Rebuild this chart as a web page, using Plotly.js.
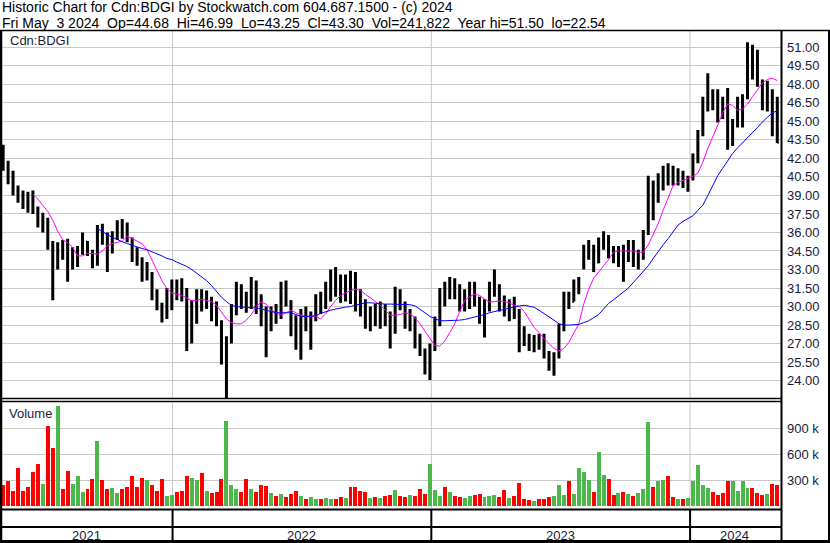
<!DOCTYPE html>
<html>
<head>
<meta charset="utf-8">
<script src="https://cdn.plot.ly/plotly-3.0.1.min.js"></script>
<style>html,body{margin:0;padding:0;background:#fff}#chart{width:830px;height:543px}</style>
</head>
<body>
<div id="chart"></div>
<script>
// ---- DATA (weekly bars; first week ends Fri 2021-05-07) ----
const firstWeekEnding = [2021, 4, 7];

const openPx = [
42.9,41.5,40.2,39.4,38.8,38.6,38.2,37.8,36.8,37.0,
35.0,33.2,34.6,34.2,33.6,33.6,34.5,35.2,34.4,33.8,
36.0,35.5,34.8,35.8,36.4,36.3,35.5,34.0,33.8,32.5,
32.6,31.0,30.0,29.2,31.2,31.8,31.5,30.8,27.5,29.0,
30.8,30.2,30.6,29.6,28.7,26.0,27.2,29.8,31.3,30.5,
30.3,31.9,30.0,29.0,28.6,29.6,29.2,31.5,30.4,28.2,
27.4,29.2,28.5,29.0,30.6,30.0,31.8,32.3,31.5,31.0,
32.0,31.0,30.5,30.0,28.8,29.5,28.8,29.8,28.6,28.0,
31.0,30.2,28.8,29.0,27.0,26.4,25.0,26.6,28.6,31.2,
31.0,32.0,31.2,30.0,31.0,31.6,30.4,29.4,30.2,31.5,
31.6,30.3,29.8,30.2,29.5,27.6,27.3,26.9,27.2,26.8,
26.2,25.2,26.0,28.2,30.6,30.4,31.8,33.4,34.0,34.8,
33.6,35.2,35.5,34.2,34.0,34.6,33.8,35.0,33.6,34.0,
36.0,39.0,38.6,40.2,40.8,40.6,40.0,40.8,40.0,40.4,
42.0,44.0,46.6,47.4,46.4,46.0,45.6,43.6,44.8,46.2,
47.0,50.2,49.0,48.2,46.6,47.2,44.68];

const highPx = [
43.1,41.8,41.0,39.8,39.4,39.3,39.4,38.1,37.6,37.2,
35.3,35.2,35.4,35.5,34.8,34.9,36.0,35.3,34.6,36.6,
36.7,36.0,36.1,37.0,37.1,36.8,35.6,34.8,34.0,33.6,
32.8,31.4,30.3,31.5,32.2,32.2,32.3,31.5,30.5,31.4,
31.4,31.3,30.8,30.4,28.9,27.6,30.2,32.0,31.8,31.2,
32.4,32.1,31.0,30.0,30.0,30.2,32.0,32.1,30.5,29.3,
29.8,30.0,29.6,31.0,31.2,32.0,33.0,33.2,32.6,32.6,
32.9,32.8,31.4,30.6,30.0,30.2,30.4,30.2,29.6,31.6,
31.4,30.4,29.8,29.2,27.8,26.6,27.0,29.2,31.5,32.0,
32.4,32.3,31.8,31.4,32.0,32.0,30.8,30.6,32.0,33.0,
31.8,30.9,30.6,30.8,29.8,28.4,27.8,27.7,27.8,27.8,
26.4,26.3,28.6,31.2,31.2,32.2,32.4,35.0,35.4,35.0,
35.6,36.1,35.8,34.9,34.9,35.0,35.4,35.4,34.6,36.2,
40.6,40.2,40.8,41.4,41.6,41.4,41.2,41.0,40.6,42.4,
44.3,47.0,48.9,47.6,47.6,47.0,47.7,45.2,47.0,47.2,
51.4,51.2,50.8,48.4,48.3,47.6,46.99];

const lowPx = [
41.0,39.9,39.0,38.4,37.9,37.6,37.5,36.4,36.0,34.6,
30.5,33.0,33.8,32.0,33.0,33.2,34.2,34.1,33.1,33.3,
35.0,32.8,34.3,35.4,35.5,35.2,33.6,33.3,32.0,32.1,
30.5,29.7,28.7,29.0,29.7,30.5,30.4,26.4,27.0,28.6,
29.6,29.8,28.8,28.4,25.3,22.54,27.0,29.3,29.8,29.5,
29.8,29.4,28.4,25.9,28.0,28.6,29.0,30.0,27.6,26.5,
25.7,28.0,26.5,28.8,29.4,29.8,30.4,30.8,30.3,30.4,
30.2,29.6,29.2,28.2,28.0,28.4,28.2,28.4,26.6,27.8,
29.7,28.2,28.0,26.6,26.0,24.5,24.05,26.4,28.4,30.0,
30.6,30.6,29.6,29.6,29.8,30.0,28.6,27.5,29.6,30.8,
29.6,29.2,28.8,29.0,26.3,26.8,26.4,26.3,26.5,25.8,
24.8,24.4,25.8,28.0,29.8,30.4,31.0,33.0,33.8,32.8,
33.5,34.6,33.9,33.5,33.2,32.0,33.6,33.2,33.0,33.8,
35.8,37.0,38.4,39.4,39.8,39.8,39.8,39.6,39.3,40.2,
41.6,43.8,45.8,45.9,44.9,45.2,42.7,43.0,44.5,44.5,
46.8,48.4,47.8,45.9,45.8,43.8,43.25];

const closePx = [
41.5,40.2,39.4,38.8,38.6,38.2,37.8,36.8,37.0,35.2,
33.2,34.6,34.2,33.6,33.6,34.5,35.2,34.6,33.6,36.0,
35.5,34.8,35.8,36.4,36.3,35.5,34.0,33.8,32.5,33.0,
31.0,30.0,29.2,31.2,31.8,31.5,30.8,27.5,29.0,30.8,
30.2,30.6,29.6,28.7,26.0,27.2,29.8,31.3,30.5,30.3,
31.9,30.0,29.0,28.6,29.6,29.2,31.5,30.4,28.2,27.4,
29.2,28.5,29.0,30.6,30.0,31.8,32.3,31.5,31.0,32.0,
31.0,30.5,30.0,28.8,29.5,28.8,29.8,28.6,28.0,31.0,
30.2,28.8,29.2,27.0,26.4,25.0,26.6,28.6,31.2,31.0,
32.0,31.2,30.0,31.0,31.6,30.4,29.4,30.2,31.5,31.6,
30.3,29.8,30.2,29.5,27.6,27.3,26.9,27.2,26.8,26.2,
25.2,26.0,28.2,30.6,30.2,31.8,32.2,34.0,34.8,33.6,
35.2,35.5,34.2,34.0,34.6,33.8,35.0,33.6,34.0,35.8,
39.0,38.6,40.2,40.8,40.6,40.0,40.8,40.0,40.4,42.0,
44.0,46.6,47.4,46.4,46.0,45.6,43.6,44.8,46.2,46.8,
50.2,49.0,48.2,46.6,47.2,44.6,43.30];

// volume in thousands of shares
const volumeK = [
250,290,180,438,180,220,400,488,260,923,
670,1154,200,404,260,346,160,200,315,750,
300,200,210,150,200,220,346,220,330,300,
250,180,315,120,130,160,180,354,330,300,
380,180,150,170,315,981,250,200,160,315,
200,160,250,230,150,120,140,110,140,180,
120,90,110,80,90,100,90,80,110,100,
220,220,180,160,100,110,100,120,130,190,
120,110,130,120,200,140,488,190,120,220,
160,120,110,100,120,130,140,110,120,130,
110,190,100,120,273,80,70,60,80,90,
110,120,250,130,288,140,438,400,300,160,
623,365,320,130,150,160,140,120,150,200,
969,220,290,300,354,110,90,80,100,290,
481,250,210,160,130,150,295,295,180,290,
215,210,150,130,140,260,242];

// short moving average (magenta)
const maShort = [
null,null,null,null,null,null,39.1,38.7,38.2,37.7,
37.0,36.1,35.4,35.2,34.8,34.1,34.1,34.3,34.3,34.25,
34.5,34.9,35.1,35.2,35.3,35.7,35.5,35.3,35.1,34.6,
33.8,32.9,32.1,31.45,31.1,31.0,30.9,30.7,30.45,30.5,
30.6,30.5,30.4,30.1,29.5,29.0,28.7,28.6,28.6,28.9,
29.35,30.0,30.35,30.2,29.7,29.5,29.3,29.5,29.7,29.5,
29.3,29.2,29.2,29.2,29.0,29.4,30.0,30.5,30.9,31.1,
31.3,31.4,31.3,31.0,30.7,30.4,30.1,29.7,29.3,29.3,
29.35,29.5,29.4,29.1,28.6,28.0,27.4,26.85,26.8,27.2,
27.9,28.6,29.6,30.5,30.8,31.0,30.9,30.6,30.35,30.4,
30.45,30.4,30.3,30.1,30.0,29.6,28.9,28.3,27.9,27.4,
27.0,26.6,26.4,26.6,27.1,27.9,28.6,30.2,31.4,32.3,
32.8,33.3,33.8,34.4,34.5,34.5,34.5,34.5,34.4,34.4,
35.0,35.8,36.7,37.8,38.8,39.8,40.05,40.2,40.35,40.55,
40.8,41.7,42.8,43.7,44.7,45.7,46.4,46.3,45.9,46.0,
46.4,47.0,47.6,48.1,48.4,48.5,48.3];

// long moving average (blue)
const maLong = [
null,null,null,null,null,null,null,null,null,null,
null,null,null,null,null,null,null,null,null,36.3,
36.1,35.8,35.6,35.45,35.25,35.1,34.95,34.8,34.7,34.6,
34.45,34.3,34.1,33.9,33.8,33.6,33.45,33.25,33.0,32.7,
32.4,32.1,31.7,31.2,30.75,30.4,30.1,30.0,29.95,29.95,
29.9,29.9,29.8,29.65,29.55,29.5,29.5,29.5,29.5,29.35,
29.2,29.2,29.2,29.25,29.45,29.6,29.7,29.8,29.9,29.95,
30.0,30.1,30.2,30.3,30.3,30.25,30.2,30.2,30.2,30.2,
30.2,30.2,30.15,30.05,29.8,29.5,29.2,29.0,28.85,28.85,
28.85,28.85,28.9,28.95,29.05,29.1,29.25,29.35,29.5,29.6,
29.65,29.75,29.85,29.95,30.05,30.1,30.05,29.95,29.7,29.45,
29.2,28.9,28.6,28.5,28.5,28.5,28.55,28.7,28.85,29.1,
29.35,29.8,30.25,30.55,30.85,31.15,31.5,31.95,32.4,32.8,
33.3,33.9,34.5,35.0,35.5,36.1,36.6,36.9,37.1,37.35,
37.8,38.2,39.0,39.8,40.6,41.2,41.8,42.4,42.85,43.25,
43.65,44.05,44.5,44.95,45.35,45.7,45.85];

const priceTicks = [24,25.5,27,28.5,30,31.5,33,34.5,36,37.5,39,40.5,42,43.5,45,46.5,48,49.5,51];
const volTicks = [300,600,900];
const volTickText = ['300 k','600 k','900 k'];
const yearLabels = ['2021','2022','2023','2024'];
const yearLabelDates = ['2021-09-01','2022-07-02','2023-07-02','2024-03-04'];
const yearStarts = ['2022-01-01','2023-01-01','2024-01-01'];
const titleLine1 = 'Historic Chart for Cdn:BDGI by Stockwatch.com 604.687.1500 - (c) 2024';
const titleLine2 = 'Fri May\u00a0 3 2024\u00a0 Op=44.68\u00a0 Hi=46.99\u00a0 Lo=43.25\u00a0 Cl=43.30\u00a0 Vol=241,822\u00a0 Year hi=51.50\u00a0 lo=22.54';
const symbolLabel = 'Cdn:BDGI';
const volumeLabel = 'Volume';

// ---- BUILD ----
const W = 830, H = 543;
const t0 = Date.UTC(firstWeekEnding[0], firstWeekEnding[1], firstWeekEnding[2]);
const dates = openPx.map((_, i) => new Date(t0 + i * 7 * 864e5).toISOString().slice(0, 10));
const volColors = closePx.map((c, i) => c >= openPx[i] ? '#4cb84c' : '#ff0000');

const FONT = 'Liberation Sans, Arial, sans-serif';
const TXT = '#1a1a3a';
const px = v => v / W;          // paper x from pixel
const py = v => 1 - v / H;      // paper y from pixel

const traces = [
  {type:'ohlc', x:dates, open:openPx, high:highPx, low:lowPx, close:closePx,
   xaxis:'x', yaxis:'y', tickwidth:0.3,
   increasing:{line:{color:'#000000', width:3}},
   decreasing:{line:{color:'#000000', width:3}},
   hoverinfo:'skip', showlegend:false},
  {type:'scatter', mode:'lines', x:dates, y:maShort, xaxis:'x', yaxis:'y',
   line:{color:'#ff00ff', width:1}, hoverinfo:'skip', showlegend:false},
  {type:'scatter', mode:'lines', x:dates, y:maLong, xaxis:'x', yaxis:'y',
   line:{color:'#0000ff', width:1}, hoverinfo:'skip', showlegend:false},
  {type:'bar', x:dates, y:volumeK, xaxis:'x', yaxis:'y2', width:5.6*864e5,
   marker:{color:volColors, line:{width:0}}, hoverinfo:'skip', showlegend:false}
];

const blk = (x0,y0,x1,y1,w) => ({type:'line', xref:'paper', yref:'paper', x0:px(x0), x1:px(x1), y0:py(y0), y1:py(y1), line:{color:'#000', width:w}});
const shapes = [];
yearStarts.forEach(d => {
  shapes.push({type:'line', xref:'x', yref:'paper', x0:d, x1:d, y0:py(398), y1:py(31), line:{color:'#c8c8c8', width:1}, layer:'below'});
  shapes.push({type:'line', xref:'x', yref:'paper', x0:d, x1:d, y0:py(508), y1:py(403), line:{color:'#c8c8c8', width:1}, layer:'below'});
  shapes.push({type:'line', xref:'x', yref:'paper', x0:d, x1:d, y0:py(543), y1:py(509), line:{color:'#000', width:2}});
});
shapes.push(blk(0,30.5,830,30.5,1.5));
shapes.push(blk(0,398.5,781,398.5,1.5));
shapes.push(blk(0,401.5,781,401.5,1.5));
shapes.push(blk(0,509.5,781,509.5,2));
shapes.push(blk(0,527,781,527,2));
shapes.push(blk(0,541.5,830,541.5,3));
shapes.push(blk(1,30.5,1,543,2.5));
shapes.push(blk(781.5,30.5,781.5,543,2));
shapes.push(blk(829,30.5,829,543,2));

const annotations = [
  {text:titleLine1, xref:'paper', yref:'paper', x:px(1), y:py(6.8), xanchor:'left', yanchor:'middle', showarrow:false, borderpad:0, font:{family:FONT, size:14, color:'#000'}},
  {text:titleLine2, xref:'paper', yref:'paper', x:px(1), y:py(23.2), xanchor:'left', yanchor:'middle', showarrow:false, borderpad:0, font:{family:FONT, size:14, color:'#000'}},
  {text:symbolLabel, xref:'paper', yref:'paper', x:px(8), y:py(40.5), xanchor:'left', yanchor:'middle', showarrow:false, font:{family:FONT, size:13, color:TXT}},
  {text:volumeLabel, xref:'paper', yref:'paper', x:px(7), y:py(413.5), xanchor:'left', yanchor:'middle', showarrow:false, font:{family:FONT, size:13, color:TXT}}
];
yearLabels.forEach((t, i) => annotations.push({text:t, xref:'x', yref:'paper', x:yearLabelDates[i], y:py(535), xanchor:'center', yanchor:'middle', showarrow:false, font:{family:FONT, size:13, color:TXT}}));

const layout = {
  width:W, height:H, margin:{l:0, r:0, t:0, b:0},
  paper_bgcolor:'#ffffff', plot_bgcolor:'#ffffff', showlegend:false, bargap:0,
  font:{family:FONT, size:13, color:TXT},
  xaxis:{type:'date', range:['2021-05-04','2024-05-08 06:00'], domain:[px(1), px(781)], anchor:'y2',
         showticklabels:false, showgrid:false, zeroline:false, showline:false, ticks:'',
         rangeslider:{visible:false}, fixedrange:true},
  yaxis:{domain:[py(400), py(31)], range:[22.43, 52.32], side:'right', anchor:'x',
         tickvals:priceTicks, tickformat:'.2f', showgrid:true, gridcolor:'#c8c8c8', gridwidth:1,
         zeroline:false, showline:false, ticks:'', ticklabelstandoff:5,
         tickfont:{family:FONT, size:13, color:TXT}, fixedrange:true},
  yaxis2:{domain:[py(509), py(402)], range:[-31, 1203], side:'right', anchor:'x',
         tickvals:volTicks, ticktext:volTickText, showgrid:true, gridcolor:'#c8c8c8', gridwidth:1,
         zeroline:false, showline:false, ticks:'', ticklabelstandoff:5,
         tickfont:{family:FONT, size:13, color:TXT}, fixedrange:true},
  shapes:shapes, annotations:annotations
};

Plotly.newPlot('chart', traces, layout, {staticPlot:true, displayModeBar:false});
</script>
</body>
</html>
